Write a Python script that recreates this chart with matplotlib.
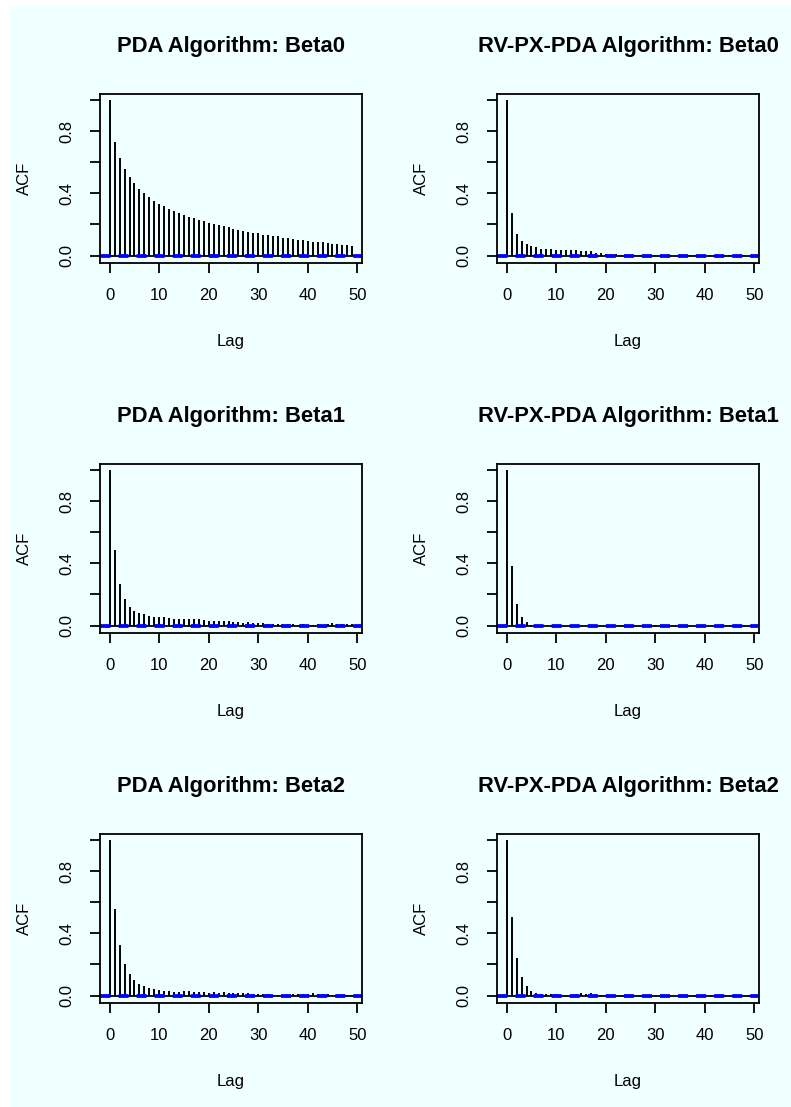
import numpy as np
import matplotlib
matplotlib.use("Agg")
import matplotlib.pyplot as plt
from matplotlib.patches import Rectangle

plt.rcParams['font.family'] = ['Liberation Sans', 'DejaVu Sans']

# ACF values, lags 0..49
lags = np.arange(50)

pda_beta0 = [1.0, 0.731, 0.630, 0.559, 0.508, 0.465, 0.430, 0.402, 0.374, 0.351,
             0.333, 0.316, 0.301, 0.286, 0.273, 0.260, 0.247, 0.239, 0.230, 0.219,
             0.211, 0.202, 0.196, 0.187, 0.181, 0.172, 0.166, 0.159, 0.153, 0.146,
             0.142, 0.135, 0.131, 0.127, 0.123, 0.116, 0.112, 0.108, 0.103, 0.099,
             0.095, 0.090, 0.086, 0.084, 0.080, 0.077, 0.073, 0.069, 0.067, 0.062]

rv_beta0 = [1.0, 0.275, 0.140, 0.092, 0.071, 0.060, 0.052, 0.045, 0.043, 0.039,
            0.037, 0.037, 0.034, 0.034, 0.037, 0.032, 0.030, 0.026, 0.019, 0.017,
            0.013, 0.011, 0.009, 0.006, 0.005, 0.004, 0.003, 0.002, 0.002, 0.001,
            0.001, 0.000, -0.001, 0.001, 0.000, -0.001, 0.001, 0.002, 0.001, 0.000,
            -0.001, 0.001, 0.002, 0.001, 0.000, 0.001, -0.001, 0.000, 0.001, 0.000]

pda_beta1 = [1.0, 0.486, 0.268, 0.169, 0.118, 0.096, 0.079, 0.073, 0.064, 0.058,
             0.056, 0.054, 0.049, 0.043, 0.043, 0.043, 0.041, 0.041, 0.041, 0.034,
             0.030, 0.028, 0.030, 0.026, 0.026, 0.024, 0.021, 0.019, 0.021, 0.019,
             0.017, 0.015, 0.013, 0.013, 0.011, 0.009, 0.011, 0.009, 0.006, 0.009,
             0.006, 0.006, 0.009, 0.006, 0.009, 0.015, 0.013, 0.013, 0.011, 0.011]

rv_beta1 = [1.0, 0.381, 0.140, 0.058, 0.022, 0.004, 0.002, 0.001, 0.000, -0.001,
            0.001, 0.000, -0.002, 0.001, 0.000, -0.001, -0.002, 0.000, -0.003, -0.004,
            -0.005, -0.002, 0.000, 0.001, -0.001, 0.000, 0.001, 0.000, -0.001, 0.000,
            0.001, 0.000, -0.001, 0.000, 0.001, 0.000, 0.000, -0.001, 0.000, 0.001,
            0.000, -0.001, 0.000, 0.001, 0.000, 0.000, -0.001, 0.000, 0.001, 0.000]

pda_beta2 = [1.0, 0.555, 0.325, 0.203, 0.139, 0.099, 0.075, 0.060, 0.051, 0.041,
             0.034, 0.032, 0.028, 0.024, 0.024, 0.026, 0.026, 0.024, 0.021, 0.021,
             0.019, 0.021, 0.019, 0.021, 0.019, 0.019, 0.017, 0.015, 0.015, 0.011,
             0.011, 0.009, 0.009, 0.006, 0.006, 0.004, 0.006, 0.009, 0.009, 0.011,
             0.013, 0.015, 0.013, 0.011, 0.009, 0.006, 0.006, 0.004, 0.004, 0.006]

rv_beta2 = [1.0, 0.503, 0.242, 0.120, 0.060, 0.026, 0.015, 0.013, 0.011, 0.009,
            0.011, 0.005, 0.004, 0.006, 0.012, 0.015, 0.013, 0.015, 0.010, 0.004,
            0.002, 0.001, 0.000, 0.002, 0.001, 0.003, 0.000, 0.001, 0.002, 0.000,
            -0.001, 0.001, 0.000, 0.001, 0.000, 0.002, 0.001, 0.000, 0.001, 0.002,
            0.003, 0.002, 0.001, 0.000, 0.001, 0.000, 0.001, 0.002, 0.000, 0.001]

titles = ["PDA Algorithm: Beta0", "RV-PX-PDA Algorithm: Beta0",
          "PDA Algorithm: Beta1", "RV-PX-PDA Algorithm: Beta1",
          "PDA Algorithm: Beta2", "RV-PX-PDA Algorithm: Beta2"]
series = [pda_beta0, rv_beta0, pda_beta1, rv_beta1, pda_beta2, rv_beta2]

ci = 0.005  # confidence bound, very close to zero
bg = '#F0FFFF'

W, H = 791, 1107
fig = plt.figure(figsize=(W / 100, H / 100), dpi=100)
fig.patch.set_facecolor('white')
fig.patches.append(Rectangle((10 / W, 0), 781 / W, 1102 / H, transform=fig.transFigure,
                             facecolor=bg, edgecolor='none', zorder=-10))

lefts = [100, 497]
tops = [94, 464, 834]
aw, ah = 262, 169

for i in range(6):
    r, c = divmod(i, 2)
    ax = fig.add_axes([lefts[c] / W, 1 - (tops[r] + ah) / H, aw / W, ah / H])
    ax.set_facecolor(bg)
    ax.vlines(lags, 0, series[i], color='black', lw=1.4)
    ax.axhline(0, color='black', lw=1.3)
    ax.axhline(ci, color='blue', lw=2.0, linestyle=(0, (3.6, 2.9)))
    ax.axhline(-ci, color='blue', lw=2.0, linestyle=(0, (3.6, 2.9)))
    ax.set_xlim(-1.96, 50.96)
    ax.set_ylim(-0.048, 1.039)
    ax.set_xticks([0, 10, 20, 30, 40, 50])
    ax.set_yticks([0, 0.2, 0.4, 0.6, 0.8, 1.0])
    ax.set_yticklabels(['0.0', '', '0.4', '', '0.8', ''], rotation=90, va='center')
    ax.tick_params(direction='out', length=7.2, width=1.3, labelsize=12, pad=11)
    for s in ax.spines.values():
        s.set_linewidth(1.3)
    ax.set_xlabel('Lag', fontsize=12, labelpad=22)
    ax.set_ylabel('ACF', fontsize=12, labelpad=20)
    ax.set_title(titles[i], fontsize=15.8, fontweight='bold', pad=30)

fig.savefig('out.png', dpi=100, facecolor=fig.get_facecolor())
